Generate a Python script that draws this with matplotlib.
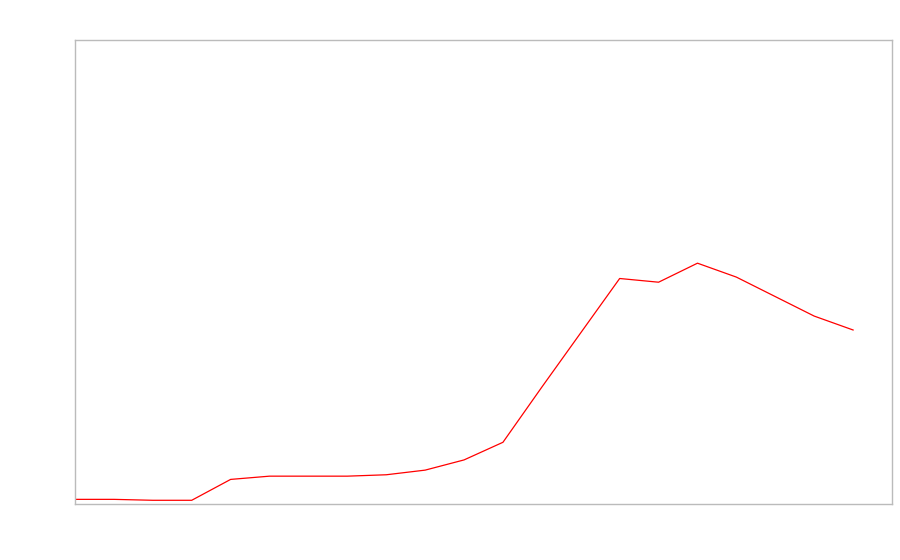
import matplotlib
matplotlib.use("Agg")
import matplotlib.pyplot as plt

x_index = list(range(21))
values = [1.0, 1.0, 0.8, 0.8, 5.3, 6.0, 6.0, 6.0, 6.3, 7.3, 9.5, 13.3,
          25.2, 36.9, 48.6, 47.8, 51.9, 48.9, 44.7, 40.5, 37.5]

fig = plt.figure(figsize=(9, 5.6), dpi=100)
ax = fig.add_axes([75/900, 56/560, 817/900, 464/560])
ax.plot(x_index, values, color="#ff0000", linewidth=0.9)
ax.set_xlim(0, 21)
ax.set_ylim(0, 100)
ax.set_xticks([])
ax.set_yticks([])
for s in ax.spines.values():
    s.set_color("#bbbbbb")
    s.set_linewidth(1)
fig.savefig("out.png", dpi=100)
